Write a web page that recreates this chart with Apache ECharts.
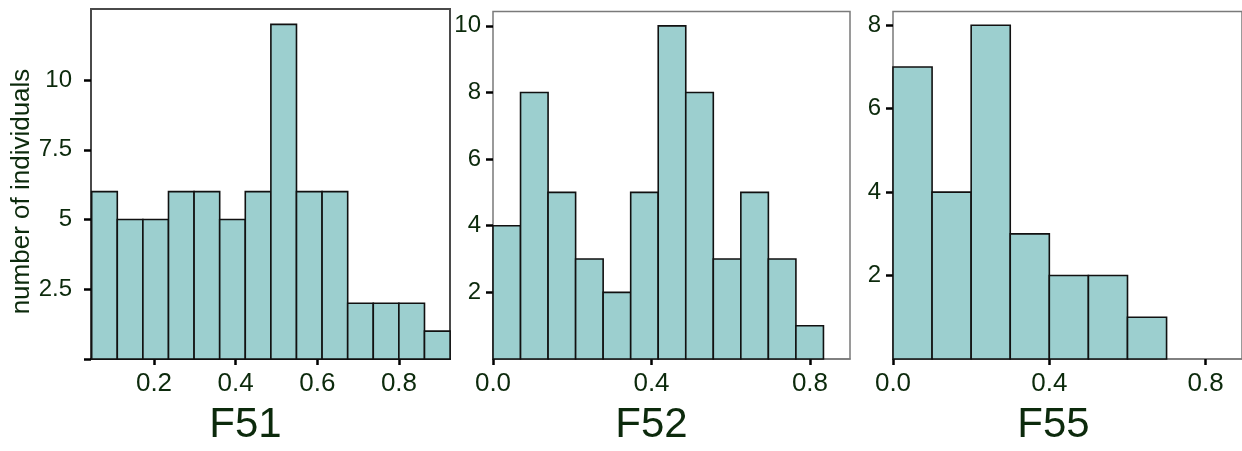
<!DOCTYPE html>
<html>
<head>
<meta charset="utf-8">
<script src="https://cdn.jsdelivr.net/npm/echarts@6/dist/echarts.min.js"></script>
<style>html,body{margin:0;padding:0;background:#fff}#c{width:1242px;height:451px}</style>
</head>
<body>
<div id="c"></div>
<script>
// ---- data ----
const panelNames = ['F51', 'F52', 'F55'];
const f51Counts = [6, 5, 5, 6, 6, 5, 6, 12, 6, 6, 2, 2, 2, 1];
const f51BinStart = 0.0474;
const f51BinWidth = 0.0627;
const f52Counts = [4, 8, 5, 3, 2, 5, 10, 8, 3, 5, 3, 1];
const f52BinStart = 0.0;
const f52BinWidth = 0.0695;
const f55Counts = [7, 4, 8, 3, 2, 2, 1];
const f55BinStart = 0.0;
const f55BinWidth = 0.1;
const f51XTicks = [0.2, 0.4, 0.6, 0.8];
const f51YTicks = [0, 2.5, 5, 7.5, 10];
const f52XTicks = [0.0, 0.4, 0.8];
const f52YTicks = [2, 4, 6, 8, 10];
const f55XTicks = [0.0, 0.4, 0.8];
const f55YTicks = [2, 4, 6, 8];
const yAxisTitle = 'number of individuals';

// ---- build ----
function bins(counts, start, width) {
  return counts.map((c, i) => [start + i * width, start + (i + 1) * width, c]);
}
const FILL = '#9ccfcf';
const TXT = '#0c2a0c';
const FONT = '"Liberation Sans", Arial, Helvetica, sans-serif';
function renderItem(params, api) {
  const p0 = api.coord([api.value(0), api.value(2)]);
  const p1 = api.coord([api.value(1), 0]);
  return {
    type: 'rect',
    shape: { x: p0[0], y: p0[1], width: p1[0] - p0[0], height: p1[1] - p0[1] },
    style: { fill: FILL, stroke: '#111', lineWidth: 1.6 }
  };
}
const fmt1 = v => v.toFixed(1);
const fmtY = v => (Number.isInteger(v) ? String(v) : v.toFixed(1));

const panels = [
  { counts: f51Counts, start: f51BinStart, width: f51BinWidth, xt: f51XTicks, yt: f51YTicks,
    grid: { left: 91, top: 9, right: 792, bottom: 85 }, xmin: 0.0457, xmax: 0.925, ymax: 12.55,
    border: '#4a4a4a', bw: 2, xline: '#111', xlw: 2, ylabMargin: 19, yLabelFrom: 2.5, padR: 50 },
  { counts: f52Counts, start: f52BinStart, width: f52BinWidth, xt: f52XTicks, yt: f52YTicks,
    grid: { left: 493, top: 11.5, right: 392, bottom: 83 }, xmin: 0, xmax: 0.901, ymax: 10.43,
    border: '#7a7a7a', bw: 1.5, xline: '#7a7a7a', xlw: 1.5, ylabMargin: 12, yLabelFrom: 2, padR: 40 },
  { counts: f55Counts, start: f55BinStart, width: f55BinWidth, xt: f55XTicks, yt: f55YTicks,
    grid: { left: 893, top: 11.5, right: -2, bottom: 83 }, xmin: 0, xmax: 0.893, ymax: 8.33,
    border: '#7a7a7a', bw: 1.5, xline: '#7a7a7a', xlw: 1.5, ylabMargin: 12, yLabelFrom: 2, padR: 28 }
];

const option = {
  animation: false,
  backgroundColor: '#fff',
  grid: [], xAxis: [], yAxis: [], series: []
};
panels.forEach((p, i) => {
  option.grid.push(Object.assign({ show: true, borderColor: p.border, borderWidth: p.bw, backgroundColor: 'transparent' }, p.grid));
  option.xAxis.push({
    type: 'value', gridIndex: i, min: p.xmin, max: p.xmax,
    splitLine: { show: false },
    axisLine: { show: true, lineStyle: { color: p.xline, width: p.xlw } },
    axisTick: { show: true, customValues: p.xt, length: 6, lineStyle: { color: '#000', width: 2.5 } },
    axisLabel: { customValues: p.xt, formatter: fmt1, color: TXT, fontSize: 26, fontFamily: FONT, margin: 12 },
    name: panelNames[i], nameLocation: 'middle', nameGap: 45,
    nameTextStyle: { color: TXT, fontSize: 42, fontFamily: FONT, padding: [0, p.padR, 0, 0] }
  });
  option.yAxis.push({
    type: 'value', gridIndex: i, min: 0, max: p.ymax,
    splitLine: { show: false },
    axisLine: { show: false },
    axisTick: { show: true, customValues: p.yt, length: 7, lineStyle: { color: '#000', width: 2.5 } },
    axisLabel: { customValues: p.yt.filter(v => v >= p.yLabelFrom), formatter: fmtY, color: TXT, fontSize: 24, fontFamily: FONT, margin: p.ylabMargin },
    name: i === 0 ? yAxisTitle : '', nameLocation: 'middle', nameGap: 56,
    nameTextStyle: { color: TXT, fontSize: 26, fontFamily: FONT, padding: [0, 15, 0, 0] }
  });
  option.series.push({
    type: 'custom', xAxisIndex: i, yAxisIndex: i, renderItem: renderItem,
    encode: { x: [0, 1], y: 2 },
    data: bins(p.counts, p.start, p.width), clip: false
  });
});
echarts.init(document.getElementById('c'), null, { renderer: 'canvas' }).setOption(option);
</script>
</body>
</html>
